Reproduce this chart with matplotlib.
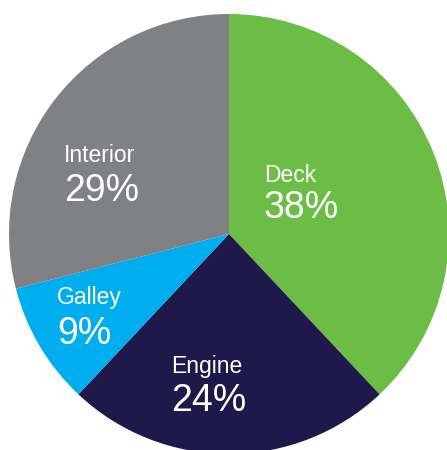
import matplotlib
matplotlib.use("Agg")
import matplotlib.pyplot as plt

# Share of work by department
categories = ["Deck", "Engine", "Galley", "Interior"]
shares = [38, 24, 9, 29]
colors = ["#6BBD45", "#1F184B", "#00AEEF", "#808184"]

# Label anchors (left edge, name baseline, value baseline) in pixels
label_px = {
    "Deck": (264, 182, 218),
    "Engine": (171, 373, 411),
    "Galley": (57, 304, 344),
    "Interior": (64, 162, 201),
}

W, H, DPI = 447, 450, 100
CX, CY, R = 229, 234, 220

fig = plt.figure(figsize=(W / DPI, H / DPI), dpi=DPI)
ax = fig.add_axes([0, 0, 1, 1])
ax.pie(shares, colors=colors, startangle=90, counterclock=False,
       radius=1.0, wedgeprops=dict(linewidth=0))
ax.set_xlim(-CX / R, (W - CX) / R)
ax.set_ylim((CY - H) / R, CY / R)
ax.set_aspect("auto")
ax.axis("off")


def to_data(px, py):
    return (px - CX) / R, (CY - py) / R


for name, val in zip(categories, shares):
    x0, yb1, yb2 = label_px[name]
    x, y1 = to_data(x0, yb1)
    _, y2 = to_data(x0, yb2)
    ax.text(x, y1, name, color="white", fontsize=16.5,
            family="Liberation Sans", ha="left", va="baseline")
    ax.text(x, y2, f"{val}%", color="white", fontsize=27,
            family="Liberation Sans", ha="left", va="baseline")

fig.savefig("out.png", dpi=DPI)
